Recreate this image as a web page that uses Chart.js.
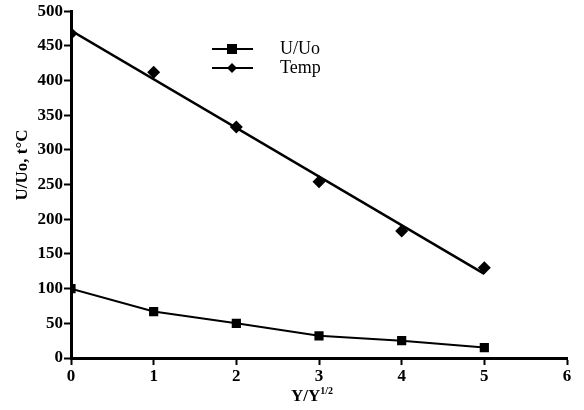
<!DOCTYPE html>
<html>
<head>
<meta charset="utf-8">
<script src="https://cdn.jsdelivr.net/npm/chart.js@4.4.1/dist/chart.umd.min.js"></script>
<style>
  html, body { margin: 0; padding: 0; background: #fff; }
  #wrap { width: 584px; height: 410px; }
</style>
</head>
<body>
<div id="wrap"><canvas id="velTemp"></canvas></div>
<script>
// readings along the profile
const xVals = [0, 1, 2, 3, 4, 5];
const uRatio = [100, 67, 50, 32, 25, 15];
const tempVals = [468, 412, 333, 254, 183, 130];

// straight line fitted through the temperature readings
function linearFit(xs, ys) {
  const n = xs.length;
  const mx = xs.reduce((a, b) => a + b, 0) / n;
  const my = ys.reduce((a, b) => a + b, 0) / n;
  let sxy = 0, sxx = 0;
  for (let i = 0; i < n; i++) {
    sxy += (xs[i] - mx) * (ys[i] - my);
    sxx += (xs[i] - mx) * (xs[i] - mx);
  }
  const slope = sxy / sxx;
  const icpt = my - slope * mx;
  return [xs[0], xs[n - 1]].map(x => ({ x: x, y: icpt + slope * x }));
}

const pts = (xs, ys) => xs.map((x, i) => ({ x: x, y: ys[i] }));
const serif = '"Liberation Serif", "DejaVu Serif", serif';

// legend and axis titles drawn straight onto the canvas
const extras = {
  id: 'extras',
  afterDraw(chart) {
    const c = chart.ctx;
    c.save();
    c.fillStyle = '#000';
    c.strokeStyle = '#000';

    // legend
    const rows = [['U/Uo', 'rect'], ['Temp', 'diamond']];
    rows.forEach((r, i) => {
      const y = 49 + i * 19;
      c.lineWidth = 2;
      c.beginPath();
      c.moveTo(212, y);
      c.lineTo(253, y);
      c.stroke();
      if (r[1] === 'rect') {
        c.fillRect(227, y - 5, 10, 10);
      } else {
        c.beginPath();
        c.moveTo(232, y - 5);
        c.lineTo(237, y);
        c.lineTo(232, y + 5);
        c.lineTo(227, y);
        c.closePath();
        c.fill();
      }
      c.font = '18px ' + serif;
      c.textBaseline = 'middle';
      c.textAlign = 'left';
      c.fillText(r[0], 280, y);
    });

    // x title with superscript
    c.textBaseline = 'alphabetic';
    const base = 'Y/Y';
    const sup = '1/2';
    c.font = 'bold 17px ' + serif;
    const w1 = c.measureText(base).width;
    c.font = 'bold 10px ' + serif;
    const w2 = c.measureText(sup).width;
    const x0 = 312 - (w1 + w2) / 2;
    c.font = 'bold 17px ' + serif;
    c.fillText(base, x0, 401);
    c.font = 'bold 10px ' + serif;
    c.fillText(sup, x0 + w1, 394);

    // y title
    c.translate(23, 165);
    c.rotate(-Math.PI / 2);
    c.font = 'bold 17px ' + serif;
    c.textAlign = 'center';
    c.textBaseline = 'middle';
    c.fillText('U/Uo, t\u00B0C', 0, 0);
    c.restore();
  }
};

const axisLook = {
  border: { display: true, color: '#000', width: 3 },
  grid: { drawOnChartArea: false, drawTicks: true, tickLength: 7, tickWidth: 2, tickColor: '#000' },
  ticks: { color: '#000', font: { family: serif, size: 17, weight: 'bold' }, padding: 1 }
};

new Chart(document.getElementById('velTemp'), {
  type: 'scatter',
  data: {
    datasets: [
      {
        label: 'U/Uo',
        data: pts(xVals, uRatio),
        showLine: true,
        borderColor: '#000',
        borderWidth: 2,
        backgroundColor: '#000',
        pointStyle: 'rect',
        pointRadius: 6.5,
        pointBorderWidth: 0
      },
      {
        label: 'Temp',
        data: pts(xVals, tempVals),
        showLine: false,
        backgroundColor: '#000',
        borderColor: '#000',
        pointStyle: 'rectRot',
        pointRadius: 6.5,
        pointBorderWidth: 0
      },
      {
        label: 'Temp fit',
        data: linearFit(xVals, tempVals),
        showLine: true,
        borderColor: '#000',
        borderWidth: 2.5,
        pointRadius: 0
      }
    ]
  },
  options: {
    responsive: true,
    maintainAspectRatio: false,
    animation: false,
    layout: { padding: { top: 11, right: 17, left: 0, bottom: 0 } },
    plugins: { legend: { display: false }, tooltip: { enabled: false } },
    scales: {
      x: Object.assign({}, axisLook, {
        type: 'linear', min: 0, max: 6,
        ticks: Object.assign({}, axisLook.ticks, { stepSize: 1 }),
        afterFit(s) { s.height = 52; }
      }),
      y: Object.assign({}, axisLook, {
        min: 0, max: 500,
        ticks: Object.assign({}, axisLook.ticks, { stepSize: 50 }),
        afterFit(s) { s.width = 71; }
      })
    }
  },
  plugins: [extras]
});
</script>
</body>
</html>
